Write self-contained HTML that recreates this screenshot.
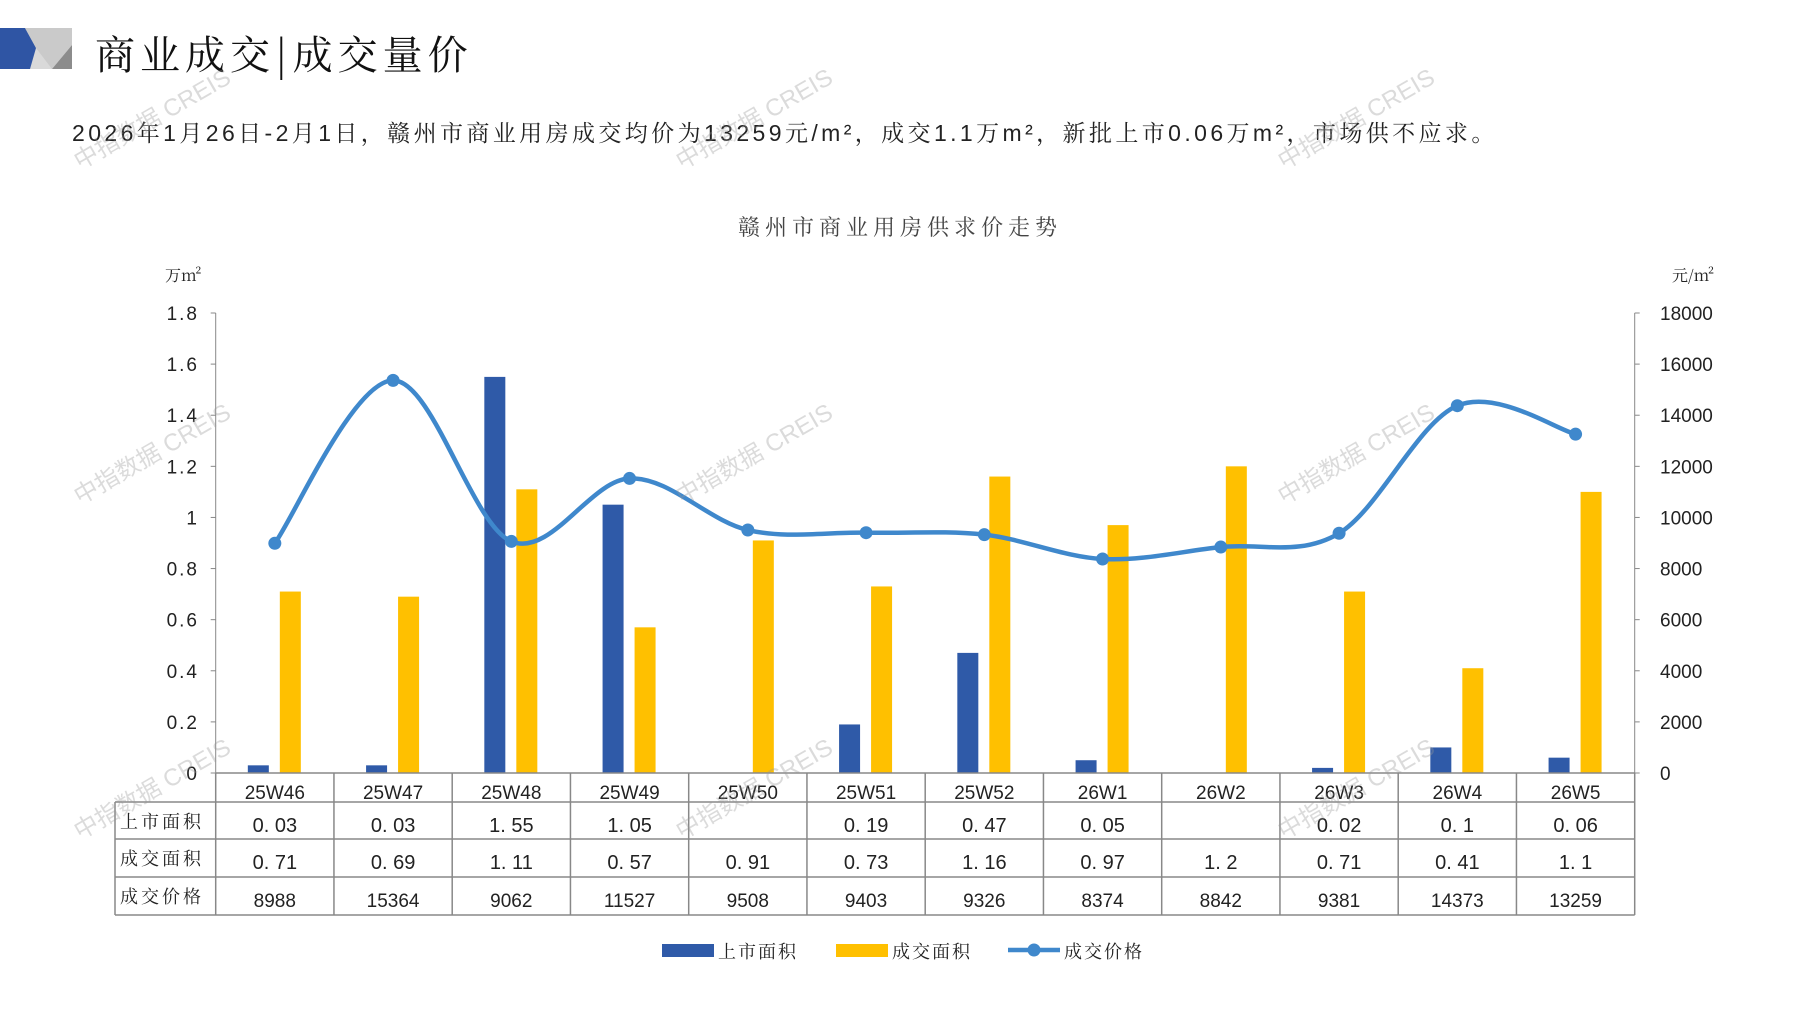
<!DOCTYPE html>
<html><head><meta charset="utf-8">
<style>
body{margin:0;width:1797px;height:1010px;background:#fff;overflow:hidden;position:relative;font-family:"Liberation Sans","Noto Sans CJK SC",sans-serif;}
.t{position:absolute;white-space:nowrap;}
</style></head><body>
<svg width="1797" height="1010" style="position:absolute;left:0;top:0">
<polygon points="0,28 72,28 72,69 0,69" fill="#d9d9d9"/>
<polygon points="0,28 25,28 36,48 30,69 0,69" fill="#2f55a4"/>
<polygon points="72,45 72,69 52,69" fill="#8c8c8c"/>
<polygon points="25,28 72,28 72,45 52,69 36,48" fill="#bfbfbf" opacity="0.6"/>
</svg>
<div class="t" style="left:95px;top:24px;font-size:40px;font-family:'Noto Serif CJK SC',serif;color:#111;letter-spacing:5px;">商业成交|成交量价</div>
<div class="t" style="left:72px;top:115px;font-size:23px;font-family:'Liberation Sans','Noto Serif CJK SC',serif;color:#222;letter-spacing:3.4px;">2026年1月26日-2月1日，赣州市商业用房成交均价为13259元/m²，成交1.1万m²，新批上市0.06万m²，市场供不应求。</div>
<div class="t" style="left:738px;top:211px;font-size:22px;font-family:'Noto Serif CJK SC',serif;color:#444;letter-spacing:5px;">赣州市商业用房供求价走势</div>
<svg id="c" width="1797" height="1010" style="position:absolute;left:0;top:0"></svg>
<script>
var s='',L=215.7,W=118.25,R=L+12*W,B=773,T=313;
var cats=['25W46','25W47','25W48','25W49','25W50','25W51','25W52','26W1','26W2','26W3','26W4','26W5'];
var sup=[0.03,0.03,1.55,1.05,null,0.19,0.47,0.05,null,0.02,0.1,0.06];
var deal=[0.71,0.69,1.11,0.57,0.91,0.73,1.16,0.97,1.2,0.71,0.41,1.1];
var pr=[8988,15364,9062,11527,9508,9403,9326,8374,8842,9381,14373,13259];
function y1(v){return B-(B-T)*v/1.8}function y2(v){return B-(B-T)*v/18000}
var lf='font-family="Liberation Sans,Noto Sans CJK SC,sans-serif"';
s+='<line x1="'+L+'" y1="'+T+'" x2="'+L+'" y2="'+B+'" stroke="#888"/>';
s+='<line x1="'+R+'" y1="'+T+'" x2="'+R+'" y2="'+B+'" stroke="#888"/>';
for(var i=0;i<=9;i++){var v=(i*0.2),y=y1(v);
s+='<line x1="'+(L-5)+'" y1="'+y+'" x2="'+L+'" y2="'+y+'" stroke="#888"/>';
s+='<line x1="'+R+'" y1="'+y+'" x2="'+(R+5)+'" y2="'+y+'" stroke="#888"/>';
s+='<text x="199" y="'+(y+7)+'" text-anchor="end" font-size="19" '+lf+' fill="#222" letter-spacing="2">'+(i==0?'0':i==5?'1':v.toFixed(1))+'</text>';
s+='<text x="1660" y="'+(y+7)+'" font-size="19" '+lf+' fill="#222">'+(i*2000)+'</text>';}
s+='<text x="165" y="281" font-size="16" font-family="Noto Serif CJK SC,serif" fill="#222">万m²</text>';
s+='<text x="1672" y="281" font-size="16" font-family="Noto Serif CJK SC,serif" fill="#222">元/m²</text>';
for(var i=0;i<12;i++){var c=L+W*(i+0.5);
if(sup[i])s+='<rect x="'+(c-27)+'" y="'+y1(sup[i])+'" width="21" height="'+(B-y1(sup[i]))+'" fill="#2f5aa8"/>';
s+='<rect x="'+(c+5)+'" y="'+y1(deal[i])+'" width="21" height="'+(B-y1(deal[i]))+'" fill="#ffc000"/>';}
var P=pr.map(function(v,i){return[L+W*(i+0.5),y2(v)]});
var d='M'+P[0][0]+','+P[0][1];
for(var i=0;i<11;i++){var p0=P[Math.max(i-1,0)],p1=P[i],p2=P[i+1],p3=P[Math.min(i+2,11)],k=1/6;
d+=' C'+(p1[0]+(p2[0]-p0[0])*k)+','+(p1[1]+(p2[1]-p0[1])*k)+' '+(p2[0]-(p3[0]-p1[0])*k)+','+(p2[1]-(p3[1]-p1[1])*k)+' '+p2[0]+','+p2[1];}
s+='<path d="'+d+'" fill="none" stroke="#3f88cc" stroke-width="4.5"/>';
P.forEach(function(p){s+='<circle cx="'+p[0]+'" cy="'+p[1]+'" r="6.5" fill="#3f88cc"/>'});
var rows=[773,802,839,877,915];
s+='<g stroke="#888" stroke-width="1.5" fill="none">';
s+='<line x1="'+L+'" y1="773" x2="'+R+'" y2="773"/>';
for(var r=1;r<5;r++)s+='<line x1="115" y1="'+rows[r]+'" x2="'+R+'" y2="'+rows[r]+'"/>';
s+='<line x1="115" y1="802" x2="115" y2="915"/>';
for(var i=0;i<=12;i++)s+='<line x1="'+(L+W*i)+'" y1="773" x2="'+(L+W*i)+'" y2="915"/>';
s+='</g>';
var labs=['上市面积','成交面积','成交价格'];
var cf='font-family="Noto Serif CJK SC,serif"';
for(var r=0;r<3;r++)s+='<text x="120" y="'+(rows[r+1]+26)+'" font-size="18" '+cf+' fill="#222" letter-spacing="3">'+labs[r]+'</text>';
function fm(v){return v==null?'':(String(v).indexOf('.')>=0?String(v).replace('.','. '):String(v))}
for(var i=0;i<12;i++){var c=L+W*(i+0.5);
s+='<text x="'+c+'" y="799" text-anchor="middle" font-size="19" '+lf+' fill="#222">'+cats[i]+'</text>';
s+='<text x="'+c+'" y="832" text-anchor="middle" font-size="20" '+lf+' fill="#222">'+fm(sup[i])+'</text>';
s+='<text x="'+c+'" y="869" text-anchor="middle" font-size="20" '+lf+' fill="#222">'+fm(deal[i])+'</text>';
s+='<text x="'+c+'" y="907" text-anchor="middle" font-size="19" '+lf+' fill="#222">'+pr[i]+'</text>';}
s+='<rect x="662" y="944" width="52" height="13" fill="#2f5aa8"/><text x="718" y="958" font-size="18" '+cf+' fill="#222" letter-spacing="2">上市面积</text>';
s+='<rect x="836" y="944" width="52" height="13" fill="#ffc000"/><text x="892" y="958" font-size="18" '+cf+' fill="#222" letter-spacing="2">成交面积</text>';
s+='<line x1="1008" y1="950" x2="1060" y2="950" stroke="#3f88cc" stroke-width="4.5"/><circle cx="1034" cy="950" r="6.5" fill="#3f88cc"/><text x="1064" y="958" font-size="18" '+cf+' fill="#222" letter-spacing="2">成交价格</text>';
[[80,170],[682,170],[1284,170],[80,505],[682,505],[1284,505],[80,840],[682,840],[1284,840]].forEach(function(w){
s+='<text x="'+w[0]+'" y="'+w[1]+'" transform="rotate(-30 '+w[0]+' '+w[1]+')" font-size="24" '+lf+' fill="#999" opacity="0.35">中指数据 CREIS</text>';});
document.getElementById('c').innerHTML=s;
</script>
</body></html>
